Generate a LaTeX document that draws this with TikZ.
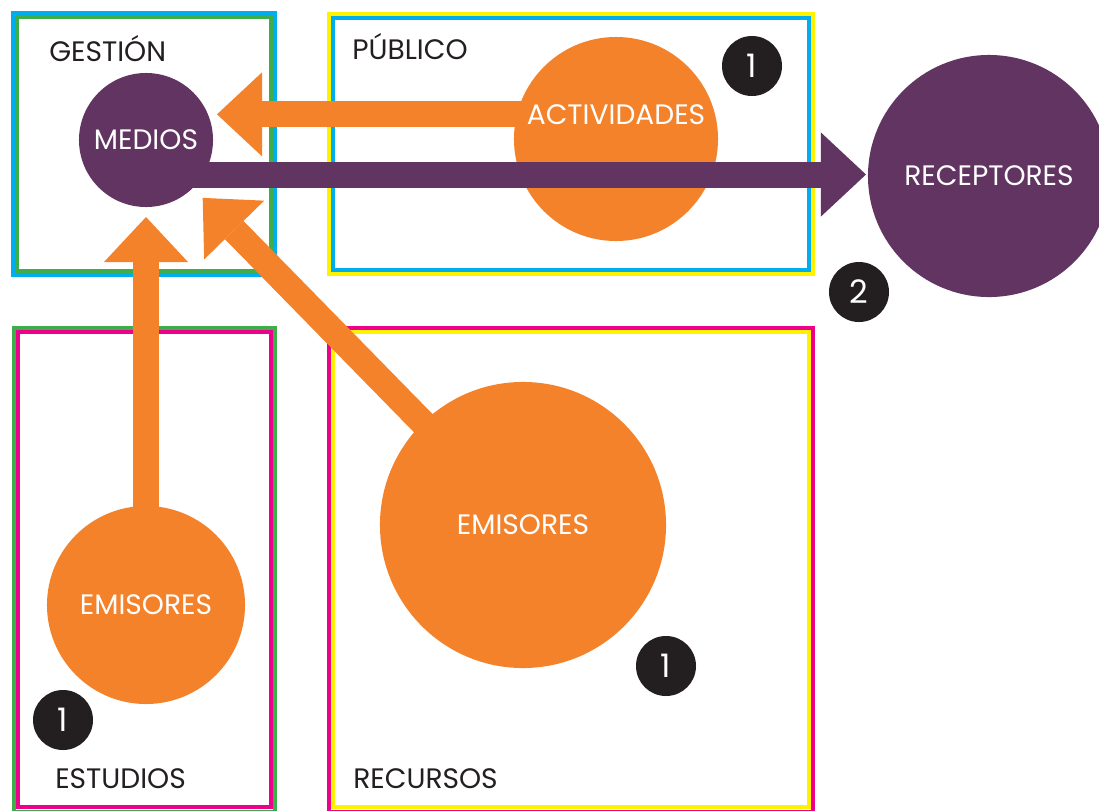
\documentclass[tikz,border=0pt]{standalone}
\usepackage{fontspec}
\setmainfont{Poppins}
\usetikzlibrary{arrows.meta,positioning,calc}
\definecolor{mapblue}{HTML}{00AEEF}
\definecolor{mapgreen}{HTML}{3DAE49}
\definecolor{mapmagenta}{HTML}{EC008C}
\definecolor{mapyellow}{HTML}{FFF200}
\definecolor{maporange}{HTML}{F3822A}
\definecolor{mappurple}{HTML}{613462}
\definecolor{mapblack}{HTML}{231F20}

\begin{document}
\begin{tikzpicture}[x=0.025cm,y=-0.025cm,
  outerframe/.style={draw=#1,line width=0.11cm},
  innerframe/.style={draw=#1,line width=0.11cm},
  boxlabel/.style={anchor=base west,inner sep=0pt,text=mapblack,font=\fontsize{20}{22}\selectfont},
  bubble/.style={circle,fill=#1,inner sep=0pt,outer sep=0pt,text=white,font=\fontsize{20}{22}\selectfont},
  badge/.style={circle,fill=mapblack,minimum size=1.5cm,inner sep=0pt,text=white,font=\fontsize{23}{25}\selectfont},
  flow/.style={draw=#1,line width=0.65cm,-{Triangle[length=1.125cm,width=2.1cm,line width=0pt]}}
]
\useasboundingbox (0,0) rectangle (1099,810);
\fill[white] (0,0) rectangle (1099,810);
% frames
\draw[outerframe=mapblue] (13,13) rectangle (275,275);
\draw[innerframe=mapgreen] (17,17) rectangle (271,271);
\draw[outerframe=mapyellow] (329,14) rectangle (813,274);
\draw[innerframe=mapblue] (333,18) rectangle (809,270);
\draw[outerframe=mapgreen] (14,328) rectangle (275,812);
\draw[innerframe=mapmagenta] (18,332) rectangle (271,807);
\draw[outerframe=mapmagenta] (329,328) rectangle (813,812);
\draw[innerframe=mapyellow] (333,332) rectangle (809,807);
\node[boxlabel] (gestion) at (49,61) {GESTIÓN};
\node[boxlabel] (publico) at (352,59) {PÚBLICO};
\node[boxlabel] (estudios) at (55,788) {ESTUDIOS};
\node[boxlabel] (recursos) at (353,788) {RECURSOS};
% circles
\node[bubble=mappurple,minimum size=3.35cm] (medios) at (146,140) {MEDIOS};
\node[bubble=maporange,minimum size=5.1cm] (act) at (616,139) {};
\node[inner sep=0pt,text=white,font=\fontsize{20}{22}\selectfont] (actlabel) at ([yshift=0.6cm]act.center) {ACTIVIDADES};
\node[bubble=mappurple,minimum size=6.05cm] (receptores) at (989,176) {RECEPTORES};
\node[bubble=maporange,minimum size=4.95cm] (emest) at (146,605) {EMISORES};
\node[bubble=maporange,minimum size=7.15cm] (emrec) at (523,525) {EMISORES};
% flows
\draw[flow=maporange,shorten <=-0.1cm] (act.166) -- ([xshift=0.1cm]act.166 -| medios.east);
\draw[flow=maporange,shorten <=-0.1cm,shorten >=0.25cm] (emest) -- (medios);
\draw[flow=maporange,shorten <=-0.1cm,shorten >=0.35cm] (emrec) -- (medios);
\draw[flow=mappurple,shorten <=-0.5cm] (medios.-31) -- ([xshift=-0.05cm]medios.-31 -| receptores.west);
% badges
\node[badge] (b1) at (752,66) {1};
\node[badge] (b2) at (859,292) {2};
\node[badge] (b3) at (63,720) {1};
\node[badge] (b4) at (666,666) {1};
\end{tikzpicture}
\end{document}
